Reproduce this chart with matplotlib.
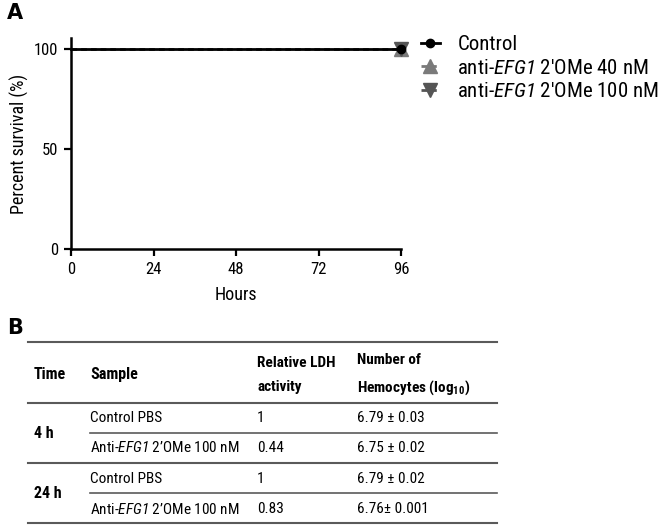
import matplotlib
matplotlib.use("Agg")
import matplotlib.pyplot as plt
from matplotlib.lines import Line2D

FONT = "Roboto Condensed"
plt.rcParams["font.family"] = [FONT, "DejaVu Sans"]
plt.rcParams["mathtext.fontset"] = "custom"
plt.rcParams["mathtext.rm"] = FONT
plt.rcParams["mathtext.it"] = FONT + ":italic"
plt.rcParams["mathtext.sf"] = FONT + ":italic"
plt.rcParams["mathtext.bf"] = FONT + ":bold"

# ---- Panel A data ----
hours = [0, 96]
surv_control = [100, 100]
surv_40 = [100, 100]
surv_100 = [100, 100]
series_labels = ["Control", "anti-$\\mathsf{EFG1}$ 2'OMe 40 nM", "anti-$\\mathsf{EFG1}$ 2'OMe 100 nM"]
xticks = [0, 24, 48, 72, 96]
yticks = [0, 50, 100]

# ---- Panel B data ----
col_headers = ["Time", "Sample", "Relative LDH\nactivity", "Number of\nHemocytes (log$_{\\mathbf{10}}$)"]
times = ["4 h", "24 h"]
samples = ["Control PBS", "Anti-$\\mathsf{EFG1}$ 2\u2019OMe 100 nM", "Control PBS", "Anti-$\\mathsf{EFG1}$ 2\u2019OMe 100 nM"]
ldh = ["1", "0.44", "1", "0.83"]
hemocytes = ["6.79 \u00b1 0.03", "6.75 \u00b1 0.02", "6.79 \u00b1 0.02", "6.76\u00b1 0.001"]

W, H = 664, 532
fig = plt.figure(figsize=(W / 100, H / 100), dpi=100)

def fx(px):
    return px / W

def fy(py):
    return 1 - py / H

ax = fig.add_axes([fx(71), fy(249), fx(401) - fx(71), fy(38) - fy(249)])
ax.step(hours, surv_40, where="post", color="#7a7a7a", lw=2, ls=(0, (2, 1.5)),
        marker="^", ms=10, markevery=[1], label=series_labels[1])
ax.step(hours, surv_100, where="post", color="#555555", lw=2, ls=(0, (2, 1.5)),
        marker="v", ms=10, markevery=[1], label=series_labels[2])
ax.step(hours, surv_control, where="post", color="black", lw=2,
        marker="o", ms=6, markevery=[1], label=series_labels[0])
ax.set_xlim(0, 96)
ax.set_ylim(0, 105.5)
ax.set_xticks(xticks)
ax.set_yticks(yticks)
ax.tick_params(labelsize=12, width=1.6, length=5, color="black", pad=4)
for s in ["top", "right"]:
    ax.spines[s].set_visible(False)
for s in ["left", "bottom"]:
    ax.spines[s].set_linewidth(1.8)
ax.set_xlabel("Hours", fontsize=13, labelpad=7)
ax.set_ylabel("Percent survival (%)", fontsize=13, labelpad=4)
for ln in ax.get_lines():
    ln.set_clip_on(False)

h, l = ax.get_legend_handles_labels()
order = [2, 0, 1]
ax.legend([h[i] for i in order], [l[i] for i in order], loc="upper left",
          bbox_to_anchor=(fx(421), fy(35)), bbox_transform=fig.transFigure,
          frameon=False, fontsize=15, handlelength=0.9, handletextpad=0.85,
          labelspacing=0.22, borderpad=0, borderaxespad=0)

fig.text(fx(7), fy(13), "A", fontsize=15, fontweight="bold", va="center", ha="left", family="DejaVu Sans")
fig.text(fx(7), fy(328), "B", fontsize=15, fontweight="bold", va="center", ha="left", family="DejaVu Sans")

# ---- Table ----
line_col = "#5a5a5a"
def hline(y, x0, x1, lw=1.5):
    fig.add_artist(Line2D([fx(x0), fx(x1)], [fy(y), fy(y)], color=line_col, lw=lw))

hline(342, 28, 497)
hline(403, 28, 497)
hline(433, 90, 497, lw=1.2)
hline(463, 28, 497)
hline(493, 90, 497, lw=1.2)
hline(523, 28, 497)

col_x = [34, 90, 257, 357]
fs = 11
fig.text(fx(col_x[0]), fy(379), col_headers[0], fontsize=fs + 0.5, fontweight="bold", va="baseline")
fig.text(fx(col_x[1]), fy(379), col_headers[1], fontsize=fs + 0.5, fontweight="bold", va="baseline")
fig.text(fx(col_x[2]), fy(375), col_headers[2], fontsize=fs, fontweight="bold", va="center", linespacing=1.85)
fig.text(fx(col_x[3]), fy(375), col_headers[3], fontsize=fs, fontweight="bold", va="center", linespacing=1.85)

row_y = [418, 448, 479, 509]
for i in range(4):
    fig.text(fx(col_x[1]), fy(row_y[i]), samples[i], fontsize=fs, va="center")
    fig.text(fx(col_x[2]), fy(row_y[i]), ldh[i], fontsize=fs, va="center")
    fig.text(fx(col_x[3]), fy(row_y[i]), hemocytes[i], fontsize=fs, va="center")
time_y = [434, 494]
for t, y in zip(times, time_y):
    fig.text(fx(col_x[0]), fy(y), t, fontsize=fs + 0.5, fontweight="bold", va="center")

fig.savefig("out.png", dpi=100)
